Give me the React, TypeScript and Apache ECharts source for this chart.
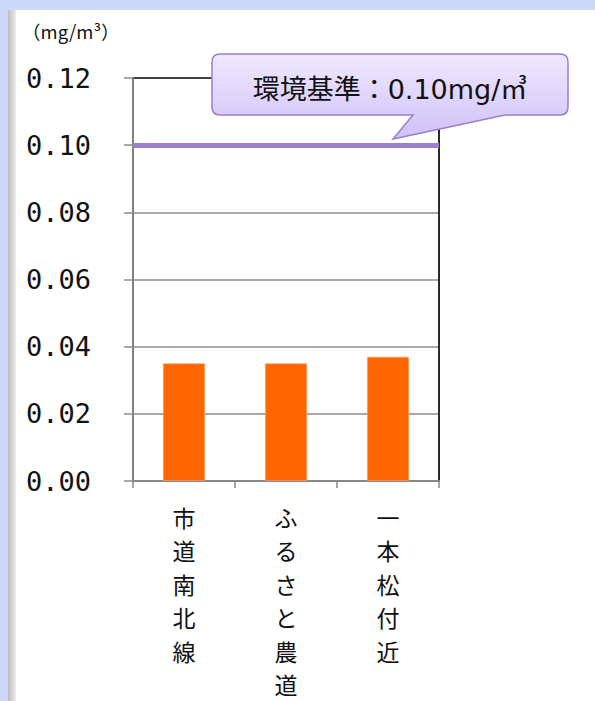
import React, { useEffect, useRef } from "react";
import * as echarts from "echarts";

const categories = ["市道南北線", "ふるさと農道", "一本松付近"];
const values = [0.035, 0.035, 0.037];
const yMin = 0;
const yMax = 0.12;
const yInterval = 0.02;
const standardValue = 0.1;
const unitLabel = "（mg/m³）";
const calloutText = "環境基準：0.10mg/㎥";

const CJK = '"Noto Sans CJK JP", "Noto Sans", sans-serif';

export default function App() {
  const ref = useRef<HTMLDivElement>(null);
  useEffect(() => {
    if (!ref.current) return;
    const chart = echarts.init(ref.current, null, { renderer: "svg" });
    const calloutPath =
      "M 220 54 H 560 Q 568 54 568 62 V 107 Q 568 115 560 115 H 505 L 393 139 L 413 115 H 220 Q 212 115 212 107 V 62 Q 212 54 220 54 Z";
    echarts.graphic.registerShape("callout", echarts.graphic.extendPath(calloutPath, {}));
    const splitColors = ["#8c8c8c", "#8c8c8c", "#8c8c8c", "#8c8c8c", "#8c8c8c", "#8c8c8c", "#000000"];
    chart.setOption({
      animation: false,
      backgroundColor: "#ccd9fb",
      graphic: [
        {
          type: "rect",
          shape: { x: 8, y: 10, width: 8, height: 691 },
          style: {
            fill: {
              type: "linear", x: 0, y: 0, x2: 1, y2: 0,
              colorStops: [
                { offset: 0, color: "#bdbdbd" },
                { offset: 0.5, color: "#d4d4d4" },
                { offset: 1, color: "#eeeeee" },
              ],
            },
          },
          z: -10,
        },
        {
          type: "rect",
          shape: { x: 16, y: 10, width: 579, height: 691 },
          style: { fill: "#ffffff" },
          z: -10,
        },
        {
          type: "text",
          x: 22,
          y: 31,
          style: {
            text: unitLabel,
            fontSize: 18.5,
            fontFamily: CJK,
            fill: "#111",
            verticalAlign: "middle",
            align: "left",
          },
        },
        {
          type: "callout",
          x: 0,
          y: 0,
          z: 50,
          style: {
            fill: {
              type: "linear", x: 0, y: 0, x2: 0, y2: 1,
              colorStops: [
                { offset: 0, color: "#efe9ff" },
                { offset: 1, color: "#d0c1f7" },
              ],
            },
            stroke: "#9a7fd0",
            lineWidth: 1.5,
          },
        },
        {
          type: "text",
          x: 390,
          y: 89,
          z: 51,
          style: {
            text: calloutText,
            fontSize: 27,
            fontFamily: '"DejaVu Sans", "Noto Sans CJK JP", sans-serif',
            fill: "#111",
            align: "center",
            verticalAlign: "middle",
          },
        },
      ],
      grid: { left: 133, right: 156, top: 78, bottom: 219, containLabel: false },
      xAxis: {
        type: "category",
        data: categories,
        axisLine: { show: true, lineStyle: { color: "#888888", width: 2 } },
        axisTick: { show: true, alignWithLabel: false, length: 7, lineStyle: { color: "#888888", width: 1.5 } },
        axisLabel: {
          interval: 0,
          margin: 19,
          fontSize: 23,
          lineHeight: 33.5,
          fontFamily: CJK,
          color: "#111",
          formatter: (v: string) => v.split("").join("\n"),
        },
      },
      yAxis: [
        {
          type: "value",
          min: yMin,
          max: yMax,
          interval: yInterval,
          axisLine: { show: true, lineStyle: { color: "#808080", width: 2 } },
          axisTick: { show: true, length: 9, lineStyle: { color: "#8c8c8c", width: 1.5 } },
          axisLabel: {
            margin: 42,
            fontSize: 27,
            fontFamily: '"DejaVu Sans Mono", monospace',
            color: "#111",
            formatter: (v: number) => v.toFixed(2),
          },
          splitLine: { show: true, lineStyle: { color: splitColors, width: 1.5 } },
        },
        {
          type: "value",
          position: "right",
          min: yMin,
          max: yMax,
          interval: yInterval,
          axisLine: { show: true, lineStyle: { color: "#2a2a2a", width: 2 } },
          axisTick: { show: false },
          axisLabel: { show: false },
          splitLine: { show: false },
        },
      ],
      series: [
        {
          type: "bar",
          data: values,
          barWidth: 42,
          itemStyle: { color: "#ff6600", borderColor: "#ff9a60", borderWidth: 0.8 },
          markLine: {
            silent: true,
            symbol: "none",
            label: { show: false },
            lineStyle: { color: "#9b80cf", width: 5, type: "solid" },
            data: [{ yAxis: standardValue }],
          },
        },
      ],
    });
    return () => chart.dispose();
  }, []);
  return (
    <div
      ref={ref}
      style={{ position: "fixed", left: 0, top: 0, width: 595, height: 701 }}
    />
  );
}
